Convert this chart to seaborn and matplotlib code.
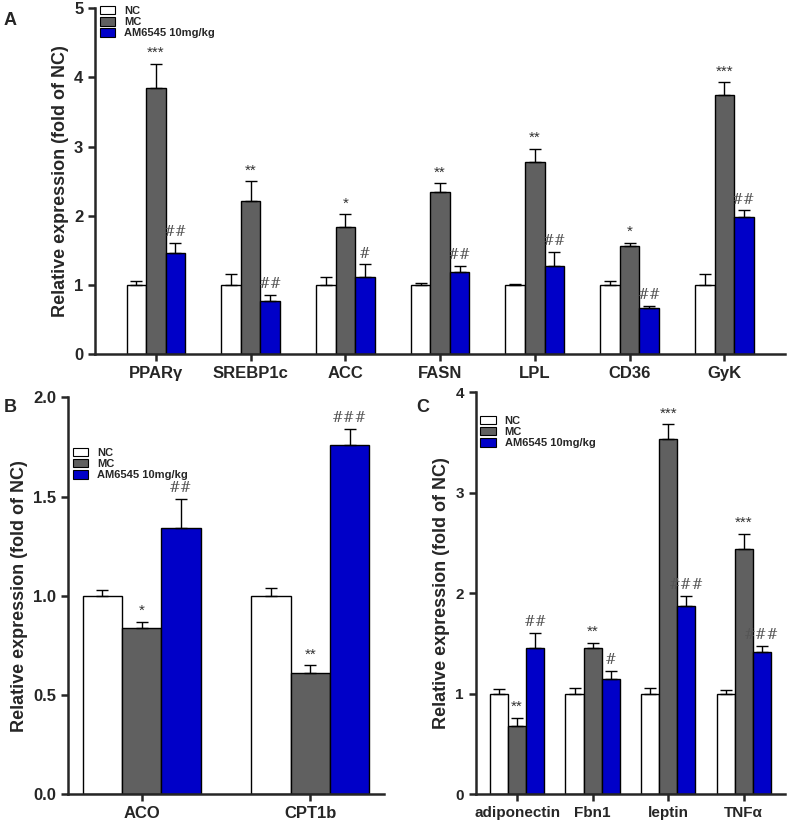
import matplotlib.pyplot as plt
import numpy as np
import pandas as pd
import seaborn as sns

sns.set_style("ticks")
plt.rcParams["font.family"] = ["Arial", "Liberation Sans", "DejaVu Sans"]

groups = ["NC", "MC", "AM6545 10mg/kg"]
colors = ["white", "#606060", "#0000c8"]

genes_a = ["PPARγ", "SREBP1c", "ACC", "FASN", "LPL", "CD36", "GyK"]
nc_a = [1.0, 1.0, 1.0, 1.0, 1.0, 1.0, 1.0]
mc_a = [3.85, 2.22, 1.84, 2.35, 2.77, 1.56, 3.75]
am_a = [1.46, 0.76, 1.12, 1.18, 1.28, 0.66, 1.98]
nc_a_err = [0.05, 0.15, 0.12, 0.02, 0.01, 0.05, 0.15]
mc_a_err = [0.35, 0.28, 0.18, 0.12, 0.2, 0.05, 0.18]
am_a_err = [0.15, 0.1, 0.18, 0.1, 0.2, 0.04, 0.1]
star_a = ["***", "**", "*", "**", "**", "*", "***"]
hash_a = ["##", "##", "#", "##", "##", "##", "##"]

genes_b = ["ACO", "CPT1b"]
nc_b = [1.0, 1.0]
mc_b = [0.84, 0.61]
am_b = [1.34, 1.76]
nc_b_err = [0.03, 0.04]
mc_b_err = [0.03, 0.04]
am_b_err = [0.15, 0.08]
star_b = ["*", "**"]
hash_b = ["##", "###"]

genes_c = ["adiponectin", "Fbn1", "leptin", "TNFα"]
nc_c = [1.0, 1.0, 1.0, 1.0]
mc_c = [0.68, 1.46, 3.53, 2.44]
am_c = [1.46, 1.15, 1.87, 1.42]
nc_c_err = [0.05, 0.06, 0.06, 0.04]
mc_c_err = [0.08, 0.05, 0.15, 0.15]
am_c_err = [0.15, 0.08, 0.1, 0.06]
star_c = ["**", "**", "***", "***"]
hash_c = ["##", "#", "###", "###"]


def panel(ax, genes, vals, errs, stars, hashes, ymax, ystep, width, fmt, legend_loc, label_size=12):
    df = pd.DataFrame({
        "gene": np.tile(genes, 3),
        "group": np.repeat(groups, len(genes)),
        "value": np.concatenate(vals),
    })
    sns.barplot(data=df, x="gene", y="value", hue="group", palette=colors,
                saturation=1, edgecolor="black", linewidth=1, width=width,
                errorbar=None, ax=ax, legend=False)
    bars = ax.patches[: 3 * len(genes)]
    for gi in range(3):
        for j in range(len(genes)):
            p = bars[gi * len(genes) + j]
            x = p.get_x() + p.get_width() / 2
            top = p.get_height()
            e = errs[gi][j]
            ax.errorbar(x, top, yerr=[[0], [e]], color="black", lw=1,
                        capsize=4, capthick=1)
            if gi == 1:
                ax.text(x, top + e + ymax * 0.01, stars[j], ha="center", va="bottom",
                        fontsize=11, color="#333333")
            if gi == 2:
                ax.text(x, top + e + ymax * 0.01, hashes[j], ha="center", va="bottom",
                        fontsize=10, color="#555555", family="serif")
    ax.set_ylim(0, ymax)
    ax.set_yticks(np.arange(0, ymax + 1e-9, ystep))
    ax.yaxis.set_major_formatter(plt.FormatStrFormatter(fmt))
    ax.set_xlabel("")
    ax.set_ylabel("Relative expression (fold of NC)", fontsize=13, fontweight="bold")
    for s in ["top", "right"]:
        ax.spines[s].set_visible(False)
    for s in ["left", "bottom"]:
        ax.spines[s].set_linewidth(1.8)
    ax.tick_params(width=1.8, length=5, labelsize=label_size)
    for t in ax.get_xticklabels() + ax.get_yticklabels():
        t.set_fontweight("bold")
    handles = [plt.Rectangle((0, 0), 1, 1, fc=c, ec="black", lw=0.8) for c in colors]
    ax.legend(handles, groups, loc=legend_loc, frameon=False,
              handlelength=1.4, handleheight=0.8, labelspacing=0.1,
              prop={"weight": "bold", "size": 8})


fig = plt.figure(figsize=(7.93, 8.31), dpi=100)
ax_a = fig.add_axes([0.12, 0.574, 0.87, 0.416])
ax_b = fig.add_axes([0.086, 0.044, 0.398, 0.478])
ax_c = fig.add_axes([0.6, 0.044, 0.39, 0.484])

panel(ax_a, genes_a, [nc_a, mc_a, am_a], [nc_a_err, mc_a_err, am_a_err],
      star_a, hash_a, 5, 1, 0.62, "%d", (0.0, 0.9))
panel(ax_b, genes_b, [nc_b, mc_b, am_b], [nc_b_err, mc_b_err, am_b_err],
      star_b, hash_b, 2.0, 0.5, 0.7, "%.1f", (0.0, 0.78))
panel(ax_c, genes_c, [nc_c, mc_c, am_c], [nc_c_err, mc_c_err, am_c_err],
      star_c, hash_c, 4, 1, 0.72, "%d", (0.0, 0.85), label_size=11)

fig.text(0.005, 0.985, "A", fontsize=13, fontweight="bold", va="top")
fig.text(0.005, 0.52, "B", fontsize=13, fontweight="bold", va="top")
fig.text(0.525, 0.52, "C", fontsize=13, fontweight="bold", va="top")

fig.savefig("out.png", dpi=100)
